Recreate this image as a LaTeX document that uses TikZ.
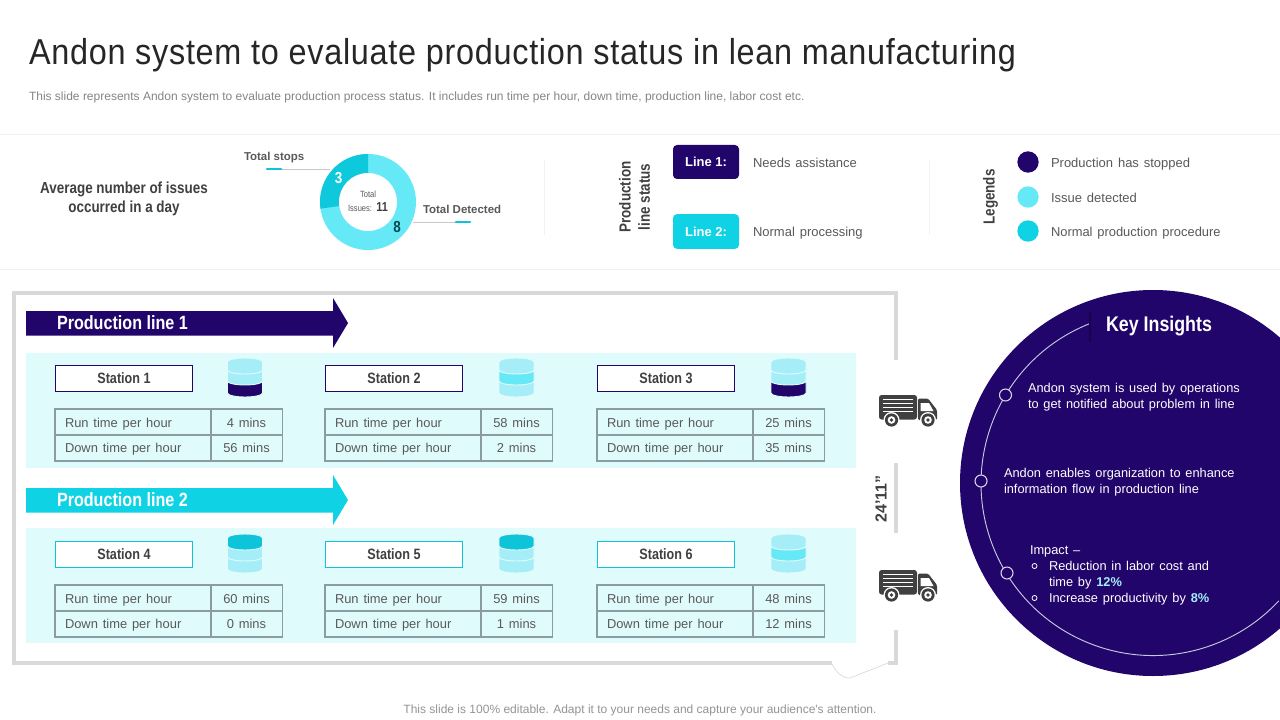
\documentclass[tikz,border=0pt]{standalone}
\usepackage{fontspec}
\setmainfont[WordSpace=1.35]{Liberation Sans}
\newfontfamily\plainf[WordSpace=1.0]{Liberation Sans}
\newfontfamily\condf[FakeStretch=0.84]{Liberation Sans}
\newfontfamily\titlef[FakeStretch=0.90,LetterSpace=2.0]{Liberation Sans}
\definecolor{navy}{HTML}{21056B}
\definecolor{cyanm}{HTML}{0FD2E4}
\definecolor{cyanl}{HTML}{66E9F7}
\definecolor{cyanp}{HTML}{A5EEF8}
\definecolor{cyand}{HTML}{0EC4D8}
\definecolor{panel}{HTML}{E0FBFC}
\definecolor{frameg}{HTML}{D9D9D9}
\definecolor{tabl}{HTML}{8A9C9F}
\definecolor{txt}{HTML}{595959}
\definecolor{txtd}{HTML}{404040}
\definecolor{truckc}{HTML}{404040}
\newcommand{\pxs}[1]{\fontsize{\dimexpr#1pt*3/4\relax}{\dimexpr#1pt*9/10\relax}\selectfont}
\tikzset{
  every node/.style={inner sep=0pt,outer sep=0pt},
  lab/.style={anchor=base west,text=txt},
  labc/.style={anchor=base,text=txt},
  head/.style={text=txtd,align=center,font=\condf\bfseries\pxs{16}},
  cell/.style={font=\pxs{12.9},text=txt},
  stnlab/.style={anchor=base,text=txtd,font=\condf\bfseries\pxs{15}},
  ins/.style={anchor=base west,text=white,font=\pxs{12.8}},
  frm/.style={draw=frameg,line width=3pt},
  tblline/.style={draw=tabl,line width=0.9pt},
  hair/.style={draw=black!5,line width=0.6pt}
}
\newcommand{\cyl}[4]{% x, top, bottom, colour
  \fill[#4,draw=panel,line width=0.7pt] (#1-17.5,#2) -- (#1-17.5,#3) arc[start angle=180,end angle=0,x radius=17.5,y radius=4] -- (#1+17.5,#2) arc[start angle=0,end angle=-180,x radius=17.5,y radius=4] -- cycle;}
\newcommand{\dbicon}[5]{% x, ytop, c1,c2,c3
  \cyl{#1}{#2+24.5}{#2+35}{#5}
  \cyl{#1}{#2+13.5}{#2+23}{#4}
  \cyl{#1}{#2+4}{#2+12}{#3}
}
\newcommand{\station}[7]{% id, x, y(top of box), label, boxcolour, run, down
  \node[draw=#5,line width=0.7pt,fill=white,minimum width=103pt,minimum height=20pt,anchor=north west] (box#1) at (#2+0.5,#3) {};
  \node[stnlab] (lab#1) at (#2+69,#3+18.5) {#4};
  \draw[tblline] (#2,#3+44) rectangle (#2+227.5,#3+96);
  \draw[tblline] (#2,#3+70) -- (#2+227.5,#3+70);
  \draw[tblline] (#2+156,#3+44) -- (#2+156,#3+96);
  \node[cell,anchor=base west] (r#1) at (#2+10,#3+62) {Run time per hour};
  \node[cell,anchor=base west] (d#1) at (#2+10,#3+87) {Down time per hour};
  \node[cell,anchor=base] (rv#1) at (#2+191.5,#3+62) {#6};
  \node[cell,anchor=base] (dv#1) at (#2+191.5,#3+87) {#7};
}
\newcommand{\truck}[2]{%
  \begin{scope}[shift={(#1,#2)}]
    \fill[truckc,rounded corners=2pt] (0,0) rectangle (38,24.5);
    \foreach \s in {3.7,7.7,11.7,15.7}{\fill[white] (4,\s) rectangle (34,\s+1.5);}
    \fill[truckc,rounded corners=1pt] (39,3.5) -- (49,3.5) -- (58,15) -- (58,25) -- (39,25) -- cycle;
    \fill[white] (41.5,8) -- (50,8) -- (54.5,16) -- (41.5,16) -- cycle;
    \foreach \c in {12.5,49}{
      \fill[white] (\c,25) circle (8);
      \fill[truckc] (\c,25) circle (6.6);
      \fill[white] (\c,25) circle (3.8);
      \fill[truckc] (\c,25) circle (1.8);
    }
  \end{scope}}
\begin{document}
\begin{tikzpicture}[x=0.75pt,y=0.75pt,yscale=-1]
\useasboundingbox (0,0) rectangle (1280,720);
\fill[white] (0,0) rectangle (1280,720);
% title
\node[anchor=base west,text=black!85] (title) at (29,65) {\titlef\pxs{36}Andon system to evaluate production status in lean manufacturing};
\node[anchor=base west,text=black!48] (sub) at (29,100.5) {\plainf\pxs{12}This slide represents Andon system to evaluate production process status. It includes run time per hour, down time, production line, labor cost etc.};
\node[anchor=base,text=black!42] (foot) at (640,713) {\plainf\pxs{12}This slide is 100\% editable. Adapt it to your needs and capture your audience's attention.};
% header band
\draw[hair] (0,134) -- (1280,134);
\draw[hair] (0,269) -- (1280,269);
\draw[hair] (544,160) -- (544,235);
\draw[hair] (929,160) -- (929,235);
\node[head,anchor=center] (avg) at (124,199) {Average number of issues\\occurred in a day};
% donut
\coordinate (dc) at (368,202);
\fill[cyanl] (dc) circle (48);
\fill[cyand!70!cyanm] (dc) -- (368,154) arc[start angle=-90,end angle=-188,radius=48] -- cycle;
\fill[white] (dc) circle (29);
\node[anchor=base,text=txt] (tot1) at (368,198) {\condf\pxs{9}Total};
\node[anchor=base,text=txt] (tot2) at (368,212) {\condf\pxs{9}Issues:\, \textcolor{txtd}{\pxs{13}\bfseries 11}};
\node[anchor=base,text=white] (v3) at (338.5,183.5) {\condf\bfseries\pxs{16}3};
\node[anchor=base,text=black!65!cyanm] (v8) at (397,233) {\condf\bfseries\pxs{16}8};
\node[anchor=base west,text=txt] (tsl) at (244,161) {\plainf\bfseries\fontsize{8.6}{10}\selectfont Total stops};
\node[anchor=base west,text=txt] (tdl) at (423,214) {\plainf\bfseries\fontsize{8.6}{10}\selectfont Total Detected};
\coordinate (ts0) at (267,169);
\coordinate (ts1) at (281,169);
\coordinate (ts2) at (330,169);
\coordinate (td0) at (413,222);
\coordinate (td1) at (456,222);
\coordinate (td2) at (470,222);
\draw[black!22,line width=0.6pt] (ts0) -- (ts2);
\draw[black!22,line width=0.6pt] (td0) -- (td2);
\draw[cyand,line width=2.2pt,line cap=round] (ts0) -- (ts1);
\draw[cyand,line width=2.2pt,line cap=round] (td1) -- (td2);
% line status
\node[head,rotate=90,anchor=center] (pls) at (634.5,197) {Production\\line status};
\node[fill=navy,rounded corners=3pt,minimum width=49.5pt,minimum height=25.5pt,anchor=center,text=white] (l1) at (706,162) {\plainf\bfseries\pxs{13}Line 1:};
\node[fill=cyanm,rounded corners=3pt,minimum width=49.5pt,minimum height=26pt,anchor=center,text=white] (l2) at (706,231.5) {\plainf\bfseries\pxs{13}Line 2:};
\node[lab] (l1t) at (753,168) {\pxs{13}Needs assistance};
\node[lab] (l2t) at (753,237) {\pxs{13}Normal processing};
% legends
\node[head,rotate=90,anchor=center] (leg) at (990.5,197) {Legends};
\node[circle,fill=navy,minimum size=16pt] (c1) at (1028,162) {};
\node[circle,fill=cyanl,minimum size=16pt] (c2) at (1028,197) {};
\node[circle,fill=cyanm,minimum size=16pt] (c3) at (1028,231) {};
\node[lab] (c1t) at (1051,168) {\pxs{13}Production has stopped};
\node[lab] (c2t) at (1051,203) {\pxs{13}Issue detected};
\node[lab] (c3t) at (1051,237) {\pxs{12.9}Normal production procedure};
% frame
\draw[frm] (896,360) -- (896,292.5) -- (13.5,292.5) -- (13.5,662.5) -- (832,662.5);
\draw[frm] (888,662.5) -- (896,662.5) -- (896,630);
\draw[frm] (896,463) -- (896,533);
\draw[black!15,line width=0.5pt] (832,664) .. controls (836,672) and (842,678) .. (850,678) -- (888,663);
% arrows
\fill[navy] (26,311) -- (333,311) -- (333,298) -- (348,323) -- (333,348) -- (333,335.5) -- (26,335.5) -- cycle;
\fill[cyanm] (26,488) -- (333,488) -- (333,475) -- (348,500) -- (333,525) -- (333,512.5) -- (26,512.5) -- cycle;
\node[anchor=base west,text=white] (pl1) at (57,329.5) {\condf\bfseries\pxs{19.2}Production line 1};
\node[anchor=base west,text=white] (pl2) at (57,506.5) {\condf\bfseries\pxs{19.2}Production line 2};
% panels
\fill[panel] (26,353) rectangle (856,468);
\fill[panel] (26,528) rectangle (856,643);
\station{1}{55}{365}{Station 1}{navy}{4 mins}{56 mins}
\station{2}{325}{365}{Station 2}{navy}{58 mins}{2 mins}
\station{3}{597}{365}{Station 3}{navy}{25 mins}{35 mins}
\station{4}{55}{541}{Station 4}{cyand}{60 mins}{0 mins}
\station{5}{325}{541}{Station 5}{cyand}{59 mins}{1 mins}
\station{6}{597}{541}{Station 6}{cyand}{48 mins}{12 mins}
\dbicon{245}{358}{cyanp}{cyanp}{navy}
\dbicon{516.5}{358}{cyanp}{cyanl}{cyanp}
\dbicon{788.5}{358}{cyanp}{cyanp}{navy}
\dbicon{245}{534}{cyand}{cyanp}{cyanp}
\dbicon{516.5}{534}{cyand}{cyanp}{cyanp}
\dbicon{788.5}{534}{cyanp}{cyanl}{cyanp}
% trucks
\truck{879}{395}
\truck{879}{570}
\node[rotate=90,anchor=center,text=txtd] (dim) at (881,499) {\bfseries\pxs{16}24’11”};
% key insights
\begin{scope}
\clip (0,0) rectangle (1280,720);
\fill[navy] (1153,483) circle (193);
\coordinate (arcs) at (1090,323.5);
\draw[white!80!cyanp!80!navy,line width=0.7pt] (arcs) arc[start angle=-111.5,end angle=-317,radius=172];
\end{scope}
\draw[navy!70!black,line width=0.8pt] (1090,311) -- (1090,342);
\node[circle,draw=white!85!navy,fill=navy,line width=0.8pt,minimum size=9pt] (k1) at (1005.5,395) {};
\node[circle,draw=white!85!navy,fill=navy,line width=0.8pt,minimum size=9pt] (k2) at (981,481) {};
\node[circle,draw=white!85!navy,fill=navy,line width=0.8pt,minimum size=9pt] (k3) at (1007,573) {};
\node[anchor=base,text=white] (ki) at (1159,331) {\condf\bfseries\pxs{21.2}Key Insights};
\node[ins] (a1) at (1028,392) {Andon system is used by operations};
\node[ins] (a2) at (1028,408) {to get notified about problem in line};
\node[ins] (b1) at (1004,477) {Andon enables organization to enhance};
\node[ins] (b2) at (1004,493) {information flow in production line};
\node[ins] (i0) at (1030,554) {Impact –};
\node[ins] (i1) at (1049,570) {Reduction in labor cost and};
\node[ins] (i2) at (1049,586) {time by \textcolor{cyanp}{\bfseries 12\%}};
\node[ins] (i3) at (1049,602) {Increase productivity by \textcolor{cyanp}{\bfseries 8\%}};
\node[circle,draw=white,line width=0.6pt,minimum size=3.8pt] (bl1) at (1034.5,566) {};
\node[circle,draw=white,line width=0.6pt,minimum size=3.8pt] (bl2) at (1034.5,598) {};
\end{tikzpicture}
\end{document}
